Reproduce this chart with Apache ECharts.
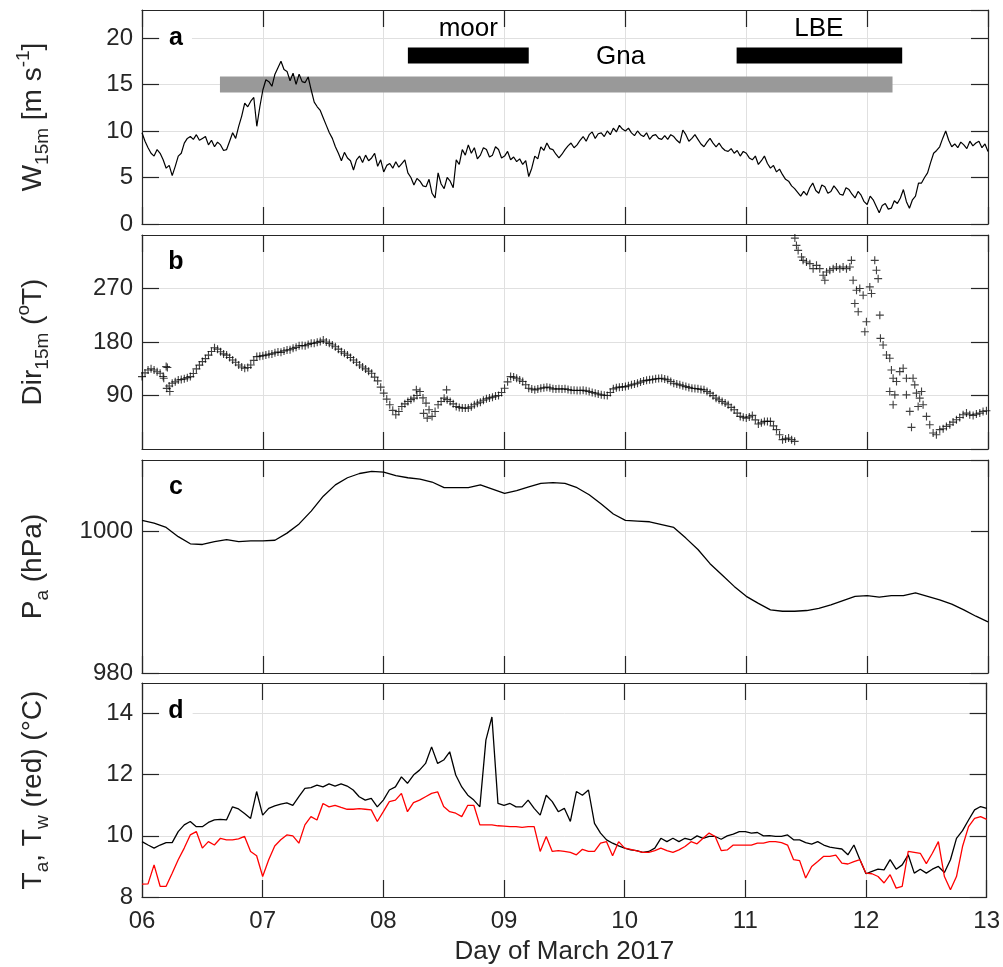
<!DOCTYPE html>
<html>
<head>
<meta charset="utf-8">
<script src="https://cdn.jsdelivr.net/npm/echarts@6/dist/echarts.min.js"></script>
<style>html,body{margin:0;padding:0;background:#fff}#chart{width:1003px;height:967px}</style>
</head>
<body>
<div id="chart"></div>
<script>
// sampling: start day and steps (days)
var day0 = 6;
var windStep = 0.025;
var tempStep = 0.05;
var presStep = 0.1;
var dayLabels = ['06', '07', '08', '09', '10', '11', '12', '13'];

// a: wind speed at 15 m (m/s), every 0.025 day (one row = half a day)
var windSpeed = [
  9.8, 8.9, 8.2, 7.6, 7.3, 8.0, 7.6, 6.9, 6.0, 6.3, 5.2, 6.2, 7.3, 7.6, 8.7, 9.2, 9.4, 9.1, 9.6, 9.0,
  9.2, 9.4, 8.5, 9.0, 8.3, 8.8, 8.5, 7.9, 8.0, 8.9, 9.8, 9.2, 10.5, 11.6, 13.0, 12.6, 13.2, 13.6, 10.5, 12.6,
  14.4, 15.5, 15.3, 14.8, 16.1, 16.8, 17.5, 16.6, 16.4, 15.4, 16.2, 15.0, 16.1, 15.3, 15.2, 15.8, 14.4, 13.1, 12.6, 12.2,
  11.4, 10.6, 9.8, 9.2, 8.3, 7.6, 6.8, 7.7, 7.1, 6.8, 5.8, 6.9, 7.3, 6.6, 7.4, 6.8, 7.1, 7.6, 6.2, 6.9,
  5.6, 6.3, 6.5, 6.0, 6.7, 6.1, 6.5, 6.9, 5.5, 5.0, 4.2, 4.9, 4.6, 4.1, 4.0, 4.8, 3.3, 2.8, 5.5, 4.3,
  3.8, 5.0, 4.6, 3.9, 6.9, 6.4, 8.0, 7.4, 8.5, 7.6, 8.2, 7.0, 7.4, 8.2, 8.0, 7.2, 7.4, 8.3, 8.0, 7.1,
  7.3, 7.8, 6.9, 7.2, 6.7, 7.0, 6.4, 6.8, 5.1, 6.0, 7.3, 7.0, 8.3, 7.9, 8.7, 8.1, 8.0, 7.5, 7.1, 7.5,
  8.0, 8.4, 8.7, 8.2, 8.5, 9.0, 9.4, 8.9, 9.6, 9.9, 9.2, 9.7, 9.8, 9.4, 10.0, 9.6, 10.3, 9.9, 10.6, 10.2,
  10.0, 10.3, 9.8, 9.5, 10.0, 9.6, 9.4, 9.8, 9.1, 9.5, 9.6, 9.2, 9.1, 9.5, 9.1, 9.6, 9.4, 9.0, 8.7, 10.1,
  9.6, 8.9, 9.2, 9.6, 9.1, 8.6, 8.3, 8.8, 9.2, 8.7, 8.3, 8.7, 8.2, 7.9, 7.8, 8.1, 7.6, 7.9, 7.3, 7.8,
  7.6, 7.1, 6.9, 7.3, 6.4, 6.8, 7.3, 6.5, 6.0, 6.3, 5.6, 5.9, 5.3, 4.8, 4.6, 4.1, 3.8, 3.4, 3.0, 3.5,
  3.1, 3.9, 4.4, 3.6, 3.3, 4.2, 4.0, 3.3, 3.5, 4.1, 3.7, 3.2, 3.1, 3.9, 3.7, 3.2, 2.8, 3.5, 3.1, 2.4,
  2.1, 3.0, 2.6, 1.9, 1.2, 2.0, 2.2, 1.6, 1.7, 2.5, 2.2, 2.8, 3.7, 2.4, 1.7, 2.6, 3.0, 4.4, 4.4, 5.0,
  5.5, 6.6, 7.6, 7.9, 8.3, 9.2, 10.0, 9.0, 8.3, 8.6, 8.2, 8.8, 8.5, 8.1, 8.9, 8.4, 8.7, 8.9, 8.2, 8.6,
  7.8
];

// a: deployment periods (day span) and bar level (m/s)
var moorSpan = [8.2, 9.2];
var lbeSpan = [10.92, 12.29];
var gnaSpan = [6.645, 12.21];
var blackBarLevel = 18.1;
var grayBarLevel = 15.0;
var periodNames = ['moor', 'LBE', 'Gna'];
var periodLabelPos = [[8.7, 21.0], [11.6, 21.0], [9.96, 17.95]];

// b: wind direction (deg true), [day, deg]
var windDir = [
  [6.00, 121.8], [6.05, 133], [6.10, 133], [6.15, 127.4], [6.20, 138.6], [6.25, 110.7], [6.30, 116], [6.35, 118],
  [6.40, 121.8], [6.45, 134.7], [6.50, 147], [6.55, 158], [6.60, 170.4], [6.65, 163.7], [6.70, 158], [6.75, 149.8],
  [6.80, 141.4], [6.85, 135.8], [6.90, 141.4], [6.95, 155.4], [7.00, 157], [7.05, 159.3], [7.10, 162], [7.15, 162.6],
  [7.20, 166.5], [7.25, 169.3], [7.30, 173.8], [7.35, 173.8], [7.40, 177.7], [7.45, 179.4], [7.50, 183.3], [7.55, 177.7],
  [7.60, 172], [7.65, 163.7], [7.70, 158], [7.75, 149.8], [7.80, 141.4], [7.85, 134.7], [7.90, 127.4], [7.95, 114.6],
  [8.00, 93.9], [8.05, 74.4], [8.10, 57.6], [8.15, 71.6], [8.20, 80], [8.25, 85.5], [8.30, 96.7], [8.35, 77.2],
  [8.40, 54.8], [8.45, 74.4], [8.50, 85.5], [8.55, 80], [8.60, 71.6], [8.65, 68.8], [8.70, 68.8], [8.75, 74.4],
  [8.80, 78.8], [8.85, 84.4], [8.90, 87.2], [8.95, 90], [9.00, 102.3], [9.05, 121.8], [9.10, 119], [9.15, 113.5],
  [9.20, 102.3], [9.25, 99.5], [9.30, 102.3], [9.35, 104], [9.40, 101.2], [9.45, 101.2], [9.50, 101.2], [9.55, 98.9],
  [9.60, 98.4], [9.65, 98.9], [9.70, 96.7], [9.75, 93.9], [9.80, 91.1], [9.85, 90], [9.90, 101.2], [9.95, 104],
  [10.00, 105], [10.05, 107.9], [10.10, 110.7], [10.15, 114.6], [10.20, 116.3], [10.25, 118], [10.30, 119], [10.35, 116.3],
  [10.40, 110.7], [10.45, 107.9], [10.50, 105], [10.55, 102.3], [10.60, 101.2], [10.65, 99.5], [10.70, 93.9], [10.75, 85.5],
  [10.80, 80], [10.85, 74.4], [10.90, 66], [10.95, 54.8], [11.00, 52], [11.05, 56.5], [11.10, 42], [11.15, 46.4],
  [11.20, 46.4], [11.25, 32.5], [11.30, 15.7], [11.35, 18.5], [11.40, 12.9],
  [6.025, 128], [6.075, 135], [6.125, 130], [6.175, 122], [6.225, 106], [6.275, 113], [6.325, 117], [6.375, 120],
  [6.425, 127], [6.475, 141], [6.525, 152], [6.575, 164], [6.625, 168], [6.675, 160], [6.725, 154], [6.775, 146],
  [6.825, 138], [6.875, 137], [6.925, 149], [6.975, 156], [7.025, 158], [7.075, 160], [7.125, 163], [7.175, 165],
  [7.225, 167], [7.275, 171], [7.325, 174], [7.375, 176], [7.425, 178], [7.475, 181], [7.525, 180], [7.575, 175],
  [7.625, 168], [7.675, 161], [7.725, 154], [7.775, 146], [7.825, 138], [7.875, 131], [7.925, 121], [7.975, 104],
  [8.025, 84], [8.075, 65], [8.125, 63], [8.175, 76], [8.225, 83], [8.275, 90], [8.325, 86], [8.375, 66],
  [8.425, 63], [8.475, 80], [8.525, 83], [8.575, 76], [8.625, 70], [8.675, 69], [8.725, 71], [8.775, 77],
  [8.825, 82], [8.875, 86], [8.925, 89], [8.975, 95], [9.025, 113], [9.075, 121], [9.125, 116], [9.175, 108],
  [9.225, 101], [9.275, 101], [9.325, 103], [9.375, 103], [9.425, 101], [9.475, 101], [9.525, 100], [9.575, 98.7],
  [9.625, 98.6], [9.675, 97.8], [9.725, 95], [9.775, 92.5], [9.825, 90.5], [9.875, 95], [9.925, 103], [9.975, 104.5],
  [10.025, 106.5], [10.075, 109.3], [10.125, 112.6], [10.175, 115.5], [10.225, 117], [10.275, 118.5], [10.325, 117.6], [10.375, 113.5],
  [10.425, 109.3], [10.475, 106.5], [10.525, 103.6], [10.575, 101.7], [10.625, 100.3], [10.675, 96.7], [10.725, 89.7], [10.775, 82.7],
  [10.825, 77.2], [10.875, 70], [10.925, 60.4], [10.975, 53.4], [11.025, 54], [11.075, 49], [11.125, 44], [11.175, 46.4],
  [11.225, 39], [11.275, 24], [11.325, 17], [11.375, 15.7],
  [6.18, 119], [6.21, 137], [6.205, 102], [6.23, 96.7], [8.27, 99.5], [8.52, 99.5], [8.33, 60], [8.36, 52],
  [11.402, 354.8], [11.415, 342.5], [11.429, 334.1], [11.457, 323], [11.47, 317.4], [11.498, 314.6], [11.526, 311.8],
  [11.553, 303.4], [11.581, 309], [11.608, 303.4], [11.636, 292.2], [11.65, 283.9], [11.664, 297.8], [11.691, 300.6],
  [11.719, 303.4], [11.746, 306.2], [11.774, 303.4], [11.801, 306.2], [11.829, 303.4], [11.857, 306.2],
  [11.870, 317.4], [11.884, 283.9], [11.912, 267.1], [11.939, 269.9], [11.898, 244.7], [11.926, 230.8], [11.967, 258.7],
  [11.994, 214], [11.981, 197.3], [12.022, 272.7], [12.036, 261.5], [12.063, 317.4], [12.077, 300.6], [12.091, 286.6],
  [12.105, 225.2], [12.110, 186.1], [12.132, 174.9], [12.160, 158.2], [12.187, 152.6], [12.201, 133], [12.215, 119],
  [12.243, 113.5], [12.270, 130.2], [12.298, 135.8], [12.325, 119], [12.187, 96.7], [12.229, 91.1], [12.215, 74.4],
  [12.325, 91.1], [12.38, 119], [12.394, 107.9], [12.408, 93.9], [12.435, 85.5], [12.45, 96.7], [12.463, 74.4],
  [12.422, 71.6], [12.353, 63.2], [12.367, 36.4], [12.491, 54.8], [12.518, 40.8], [12.546, 26.9],
  [12.573, 24], [12.601, 32.5], [12.629, 34.1], [12.656, 38], [12.684, 40.8], [12.711, 45.3], [12.739, 49.2],
  [12.766, 53.1], [12.794, 57.6], [12.822, 60.4], [12.849, 57.6], [12.877, 56.5], [12.904, 58.7], [12.932, 60.4],
  [12.959, 63.2], [12.987, 64.3]
];

// c: air pressure (hPa), every 0.1 day
var pressure = [
  1001.5, 1001.1, 1000.5, 999.2, 998.2, 998.1, 998.5, 998.8, 998.5, 998.6,
  998.6, 998.7, 999.7, 1001.0, 1002.8, 1004.9, 1006.5, 1007.5, 1008.1, 1008.4,
  1008.3, 1007.8, 1007.5, 1007.3, 1006.9, 1006.1, 1006.1, 1006.1, 1006.5, 1005.9,
  1005.3, 1005.7, 1006.2, 1006.7, 1006.8, 1006.7, 1006.1, 1005.1, 1003.8, 1002.4,
  1001.5, 1001.4, 1001.3, 1000.9, 1000.5, 999.0, 997.4, 995.4, 993.8, 992.2,
  990.8, 989.8, 988.9, 988.7, 988.7, 988.8, 989.1, 989.6, 990.2, 990.8,
  990.9, 990.7, 990.9, 990.9, 991.3, 990.8, 990.3, 989.7, 988.9, 988.0,
  987.2
];

// d: air temperature (black) and water temperature (red), every 0.05 day
var airTemp = [
  9.81, 9.70, 9.60, 9.70, 9.78, 9.78, 10.14, 10.36, 10.47, 10.30, 10.30, 10.44, 10.52, 10.54, 10.52, 10.95, 10.88, 10.73, 10.57, 11.45,
  10.68, 10.90, 10.98, 11.04, 11.08, 11.00, 11.28, 11.55, 11.58, 11.66, 11.60, 11.70, 11.63, 11.70, 11.63, 11.50, 11.28, 11.17, 11.23, 10.95,
  11.17, 11.50, 11.60, 11.93, 11.72, 11.99, 12.15, 12.37, 12.91, 12.37, 12.48, 12.75, 11.99, 11.60, 11.33, 11.17, 10.95, 13.13, 13.89, 11.06,
  11.00, 11.06, 10.95, 10.95, 11.17, 10.90, 10.68, 11.33, 11.12, 10.79, 10.90, 10.47, 11.45, 11.33, 11.50, 10.41, 10.09, 9.87, 9.76, 9.67,
  9.60, 9.54, 9.52, 9.46, 9.49, 9.60, 9.92, 9.81, 9.92, 9.81, 9.92, 9.87, 10.00, 9.92, 9.98, 9.98, 9.89, 10.00, 10.06, 10.14,
  10.14, 10.09, 10.11, 10.00, 10.01, 9.98, 9.98, 10.03, 9.87, 9.87, 9.78, 9.73, 9.81, 9.70, 9.63, 9.60, 9.57, 9.38, 9.70, 9.22,
  8.76, 8.84, 8.91, 8.89, 9.22, 8.91, 9.05, 9.38, 8.78, 8.91, 8.78, 8.91, 9.00, 8.80, 9.22, 9.92, 10.17, 10.52, 10.85, 10.96,
  10.90
];
var waterTemp = [
  8.42, 8.43, 9.05, 8.35, 8.35, 8.78, 9.22, 9.60, 10.03, 10.14, 9.60, 9.81, 9.70, 9.92, 9.87, 9.87, 9.90, 9.98, 9.49, 9.35,
  8.67, 9.22, 9.67, 9.87, 10.03, 10.00, 9.76, 10.36, 10.63, 10.52, 11.06, 10.95, 11.00, 10.93, 10.87, 10.87, 10.89, 10.87, 10.85, 10.47,
  10.79, 11.12, 11.17, 11.39, 10.79, 11.09, 11.17, 11.28, 11.39, 11.44, 10.96, 10.79, 10.74, 10.63, 11.00, 11.00, 10.36, 10.36, 10.36, 10.33,
  10.32, 10.30, 10.30, 10.28, 10.30, 10.30, 9.49, 9.98, 9.49, 9.52, 9.49, 9.46, 9.38, 9.56, 9.49, 9.49, 9.76, 9.81, 9.35, 9.81,
  9.60, 9.56, 9.51, 9.46, 9.46, 9.52, 9.60, 9.52, 9.46, 9.54, 9.65, 9.81, 9.74, 9.92, 10.09, 9.98, 9.52, 9.54, 9.70, 9.70,
  9.70, 9.70, 9.76, 9.76, 9.81, 9.81, 9.78, 9.70, 9.22, 9.19, 8.62, 9.00, 9.16, 9.33, 9.33, 9.37, 9.11, 9.08, 9.16, 9.22,
  8.78, 8.76, 8.67, 8.46, 8.73, 8.29, 8.35, 9.49, 9.46, 9.43, 9.09, 9.43, 9.81, 8.67, 8.24, 8.67, 9.65, 10.30, 10.57, 10.63,
  10.54
];

var FONT = '"Liberation Sans", Arial, Helvetica, sans-serif';
var TXT = '#262626';

function series2d(vals, step) {
  return vals.map(function (v, k) { return [day0 + k * step, v]; });
}

var yNames = [
  '{n|W}{sub|15m}{n| [m s}{sup|-1}{n|]}',
  '{n|Dir}{sub|15m}{n| (}{sup|o}{n|T)}',
  '{n|P}{sub|a}{n| (hPa)}',
  '{n|T}{sub|a}{n|, T}{sub|w}{n| (red) (°C)}'
];
var yLimits = [[0, 23, 5], [0, 360, 90], [980, 1010, 20], [8, 15, 2]];
var gridTops = [10, 235, 460, 683];
var gridHeights = [214, 214, 213, 214];

var nameRich = {
  n: {fontSize: 28, fontFamily: FONT, color: TXT, lineHeight: 38},
  sub: {fontSize: 19, fontFamily: FONT, color: TXT, lineHeight: 20, verticalAlign: 'bottom'},
  sup: {fontSize: 19, fontFamily: FONT, color: TXT, lineHeight: 20, verticalAlign: 'top'}
};

var lineC = {color: TXT, width: 1.2};
var gridLineC = {color: '#e0e0e0', width: 1};

var option = {
  animation: false,
  backgroundColor: '#fff',
  textStyle: {fontFamily: FONT},
  grid: [],
  xAxis: [],
  yAxis: [],
  series: [],
  graphic: []
};

for (var i = 0; i < 4; i++) {
  option.grid.push({left: 142, right: 15, top: gridTops[i], height: gridHeights[i]});
  option.xAxis.push({
    type: 'value', gridIndex: i, position: 'bottom', min: 6, max: 13, interval: 1,
    name: i === 3 ? 'Day of March 2017' : '', nameLocation: 'middle', nameGap: 42,
    nameTextStyle: {fontSize: 26, color: TXT, fontFamily: FONT},
    axisLine: {onZero: false, lineStyle: lineC},
    axisTick: {inside: true, length: 17, lineStyle: lineC},
    axisLabel: {
      show: i === 3, margin: 12, fontSize: 24, color: TXT, fontFamily: FONT,
      showMinLabel: true, showMaxLabel: true,
      formatter: function (v) { return dayLabels[Math.round(v) - 6]; }
    },
    splitLine: {show: true, lineStyle: gridLineC}
  });
}
for (i = 0; i < 4; i++) {
  option.xAxis.push({
    type: 'value', gridIndex: i, position: 'top', min: 6, max: 13, interval: 1,
    axisLine: {onZero: false, lineStyle: lineC},
    axisTick: {inside: true, length: 17, lineStyle: lineC},
    axisLabel: {show: false},
    splitLine: {show: false}
  });
}
for (i = 0; i < 4; i++) {
  (function (lim, idx) {
    option.yAxis.push({
      type: 'value', gridIndex: idx, position: 'left', min: lim[0], max: lim[1], interval: lim[2],
      name: yNames[idx], nameLocation: 'middle', nameGap: 90, nameRotate: 90,
      nameTextStyle: {rich: nameRich},
      axisLine: {onZero: false, lineStyle: lineC},
      axisTick: {inside: true, length: 17, lineStyle: lineC},
      axisLabel: {
        margin: 9, fontSize: 24, color: TXT, fontFamily: FONT,
        showMinLabel: idx !== 1, showMaxLabel: false,
        formatter: function (v) { return (idx === 1 && (v === 0 || v === 360)) ? '' : String(v); }
      },
      splitLine: {show: true, lineStyle: gridLineC}
    });
  })(yLimits[i], i);
}
for (i = 0; i < 4; i++) {
  option.yAxis.push({
    type: 'value', gridIndex: i, position: 'right', min: yLimits[i][0], max: yLimits[i][1], interval: yLimits[i][2],
    axisLine: {onZero: false, lineStyle: lineC},
    axisTick: {inside: true, length: 17, lineStyle: lineC},
    axisLabel: {show: false},
    splitLine: {show: false}
  });
}

function lineSeries(data, xi, color, width, z) {
  return {
    type: 'line', xAxisIndex: xi, yAxisIndex: xi, data: data,
    symbol: 'none', showSymbol: false, silent: true,
    lineStyle: {color: color, width: width, cap: 'butt'}, z: z || 3
  };
}

// a: bars first, wind line on top
option.series.push(lineSeries([[gnaSpan[0], grayBarLevel], [gnaSpan[1], grayBarLevel]], 0, '#999999', 16, 2));
option.series.push(lineSeries([[moorSpan[0], blackBarLevel], [moorSpan[1], blackBarLevel]], 0, '#000', 16, 2));
option.series.push(lineSeries([[lbeSpan[0], blackBarLevel], [lbeSpan[1], blackBarLevel]], 0, '#000', 16, 2));
option.series.push(lineSeries(series2d(windSpeed, windStep), 0, '#000', 1.2, 4));
option.series.push({
  type: 'scatter', xAxisIndex: 0, yAxisIndex: 0, symbolSize: 0, silent: true, z: 5,
  itemStyle: {opacity: 1},
  data: periodLabelPos.map(function (p, k) { return [p[0], p[1], periodNames[k]]; }),
  label: {
    show: true, position: 'inside', fontSize: 26, color: '#000', fontFamily: FONT,
    formatter: function (p) { return p.value[2]; }
  }
});

// b
option.series.push({
  type: 'scatter', xAxisIndex: 1, yAxisIndex: 1, data: windDir, silent: true, z: 3,
  symbol: 'path://M4.3,0h1.4v10h-1.4z M0,4.3h10v1.4h-10z', symbolSize: 8,
  itemStyle: {color: 'rgba(0,0,0,0.75)', opacity: 1}
});

// c
option.series.push(lineSeries(series2d(pressure, presStep), 2, '#000', 1.3));

// d
option.series.push(lineSeries(series2d(airTemp, tempStep), 3, '#000', 1.3));
option.series.push(lineSeries(series2d(waterTemp, tempStep), 3, '#ff0000', 1.3, 4));

// panel letters
var letters = ['a', 'b', 'c', 'd'];
var letterY = [38, 262, 487, 711];
letters.forEach(function (t, k) {
  option.graphic.push({
    type: 'text', x: 176, y: letterY[k], z: 50,
    style: {
      text: t, font: 'bold 25px "Liberation Sans", Arial, sans-serif', fill: '#000',
      align: 'center', verticalAlign: 'middle', backgroundColor: '#fff', padding: [3, 9]
    }
  });
});

var chart = echarts.init(document.getElementById('chart'));
chart.setOption(option);
</script>
</body>
</html>
